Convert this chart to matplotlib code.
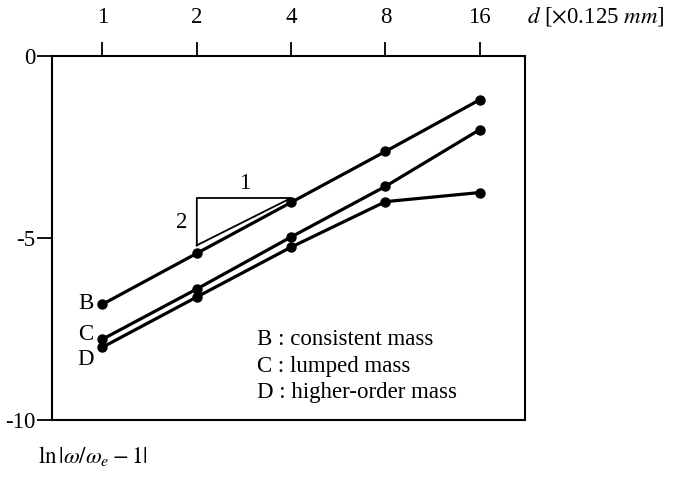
import numpy as np
import matplotlib
matplotlib.use('Agg')
import matplotlib.pyplot as plt

plt.rcParams['font.family'] = ['Liberation Serif', 'DejaVu Serif']
plt.rcParams['mathtext.fontset'] = 'stix'
plt.rcParams['axes.unicode_minus'] = False

# element size d in units of 0.125 mm
d = [1, 2, 4, 8, 16]
d_labels = ['1', '2', '4', '8', '16']

# ln|w/w_e - 1| for the three mass matrices
consistent = [-6.82, -5.42, -4.02, -2.62, -1.20]
lumped = [-7.78, -6.40, -4.97, -3.58, -2.02]
higher_order = [-8.00, -6.62, -5.25, -4.00, -3.75]

y_ticks = [0, -5, -10]
y_labels = ['0', '-5', '-10']

fs = 16.5

fig = plt.figure(figsize=(6.82, 4.84), dpi=100)
ax = fig.add_axes([0.0762, 0.1322, 0.6936, 0.752])

for vals in (consistent, lumped, higher_order):
    ax.plot(d, vals, color='black', lw=2.3, marker='o', ms=6.5)

ax.set_xscale('log', base=2)
ax.set_xlim(0.69, 22.3)
ax.set_ylim(-10, 0)

ax.xaxis.tick_top()
ax.set_xticks(d)
ax.set_xticklabels(d_labels)
ax.xaxis.set_minor_locator(matplotlib.ticker.NullLocator())
ax.tick_params(axis='x', which='major', direction='out', length=10, width=1.3,
               pad=10, labelsize=fs)
ax.set_yticks(y_ticks)
ax.set_yticklabels(y_labels)
ax.tick_params(axis='y', direction='out', length=11, width=1.3, pad=1,
               labelsize=fs)
for s in ax.spines.values():
    s.set_linewidth(1.5)

# slope triangle 1:2
ax.plot([2, 2, 4, 2], [-5.2, -3.9, -3.9, -5.2], color='black', lw=1.3)
ax.text(2.85, -3.49, '1', fontsize=fs, ha='center', va='center')
ax.text(1.785, -4.56, '2', fontsize=fs, ha='center', va='center')

# curve letters
ax.text(0.883, -6.81, 'B', fontsize=fs, ha='center', va='center')
ax.text(0.883, -7.66, 'C', fontsize=fs, ha='center', va='center')
ax.text(0.883, -8.35, 'D', fontsize=fs, ha='center', va='center')

ax.text(3.12, -7.78, 'B : consistent mass', fontsize=fs, va='center')
ax.text(3.12, -8.52, 'C : lumped mass', fontsize=fs, va='center')
ax.text(3.12, -9.24, 'D : higher-order mass', fontsize=fs, va='center')

fig.text(527 / 682, 1 - 17 / 484, r'$d$ [$\times$0.125 $mm$]', fontsize=fs,
         ha='left', va='center')
fig.text(38 / 682, 1 - 456 / 484, r'$\mathrm{ln}\,|\omega/\omega_e - 1|$',
         fontsize=fs, ha='left', va='center')

fig.savefig('out.png', dpi=100)
